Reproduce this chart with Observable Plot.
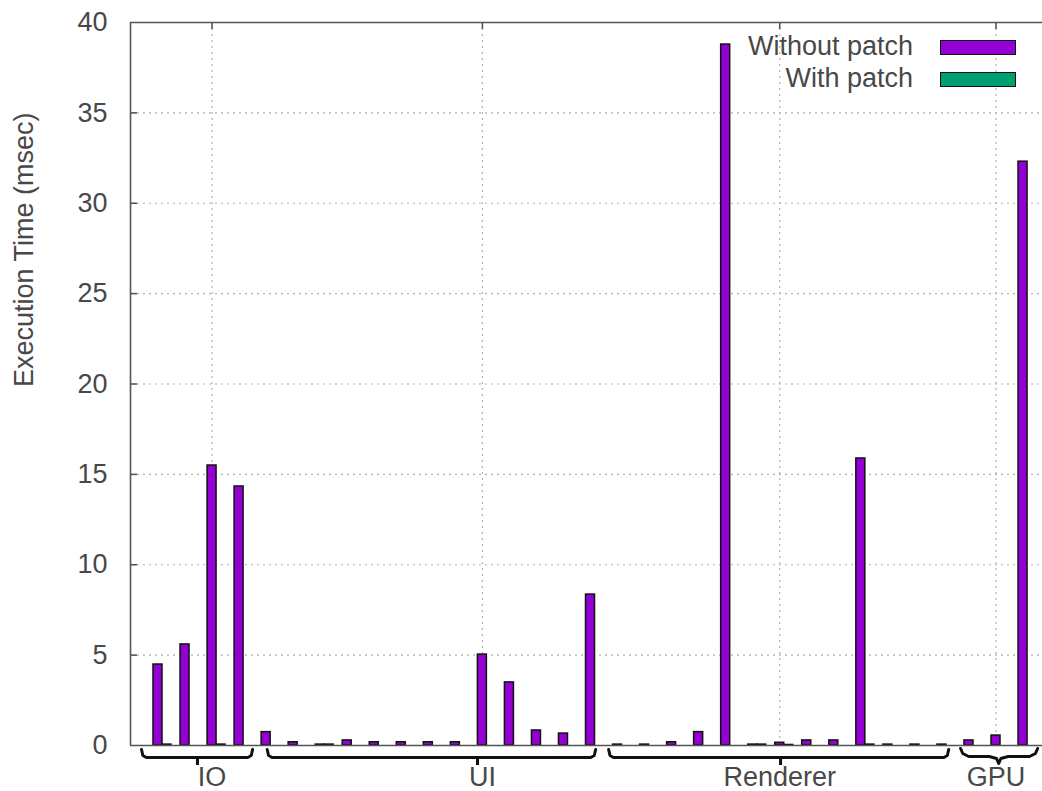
<!DOCTYPE html>
<html>
<head>
<meta charset="utf-8">
<script src="https://cdn.jsdelivr.net/npm/d3@7"></script>
<script src="https://cdn.jsdelivr.net/npm/@observablehq/plot@0.6"></script>
<style>
  html, body { margin: 0; padding: 0; background: #fff; }
  #wrap { position: relative; width: 1042px; height: 791px; overflow: hidden; font-family: "Liberation Sans", Arial, sans-serif; }
  .lg-text { position: absolute; font-size: 27px; color: #484848; text-align: right; line-height: 1; }
  .lg-sw { position: absolute; box-sizing: border-box; border: 1.5px solid #111; }
</style>
</head>
<body>
<div id="wrap"></div>
<script>
// ---- data ----
const groups = ["IO", "UI", "Renderer", "GPU"];
const groupSizes = [4, 13, 13, 3];
const withoutPatch = [
  4.48, 5.59, 15.49, 14.33,
  0.74, 0.18, 0.05, 0.28, 0.18, 0.18, 0.18, 0.18, 5.03, 3.49, 0.83, 0.66, 8.35,
  0.05, 0.05, 0.18, 0.74, 38.78, 0.05, 0.15, 0.28, 0.28, 15.88, 0.05, 0.05, 0.05,
  0.28, 0.55, 32.3
];
const withPatch = [
  0.05, 0, 0.05, 0,
  0, 0, 0.05, 0, 0, 0, 0, 0, 0, 0, 0, 0, 0,
  0, 0, 0, 0, 0, 0.05, 0.03, 0, 0, 0.05, 0, 0, 0,
  0, 0, 0
];
const seriesNames = ["Without patch", "With patch"];
const seriesColors = ["#9400d3", "#009e73"];
const yTicks = [0, 5, 10, 15, 20, 25, 30, 35, 40];
const groupLabelAt = [2, 12, 23, 31];          // cluster index of each group label / grid line
const bracketFrom = [-0.61, 4.04, 16.67, 29.69]; // bracket extents (cluster units)
const bracketTo = [3.50, 16.19, 29.25, 32.54];
const bracketTip = [1.46, 11.82, 23.03, 31.1];

// ---- build tables ----
const bars = [];
withoutPatch.forEach((v, i) => bars.push({i, v, s: 0}));
withPatch.forEach((v, i) => bars.push({i, v, s: 1}));

const pxPerUnit = 723 / 40;
const py = px => -px / pxPerUnit; // pixel offset below the axis -> y units
const bracketLines = [];
groups.forEach((g, k) => {
  const a = bracketFrom[k], b = bracketTo[k], t = bracketTip[k];
  const pts = k === 3
    ? [[a, py(3)], [a + 0.08, py(8)], [a + 0.3, py(11)], [t - 0.35, py(11)], [t - 0.08, py(13)], [t, py(18)],
       [t + 0.08, py(13)], [t + 0.35, py(11)], [b - 0.3, py(11)], [b - 0.08, py(8)], [b, py(3)]]
    : [[a, py(4)], [a + 0.05, py(10)], [a + 0.18, py(12)], [b - 0.18, py(12)], [b - 0.05, py(10)], [b, py(4)]];
  pts.forEach(([x, y]) => bracketLines.push({g, x, y}));
});
const bracketTips = groups.map((g, k) => ({g, x: bracketTip[k]})).filter((d, k) => k !== 3);

const xDomain = [-1.017, 32.72];
const textColor = "#484848";

const chart = Plot.plot({
  width: 1042,
  height: 791,
  marginLeft: 130,
  marginRight: 0,
  marginTop: 22,
  marginBottom: 46,
  style: {fontFamily: "'Liberation Sans', Arial, sans-serif", fontSize: "27px", color: textColor, background: "#fff"},
  x: {type: "linear", domain: xDomain},
  y: {domain: [0, 40]},
  marks: [
    Plot.gridY(yTicks.filter(d => d > 0 && d < 40), {stroke: "#b0b0b0", strokeOpacity: 1, strokeDasharray: "2,4", strokeWidth: 1.2, insetLeft: 7}),
    Plot.gridX(groupLabelAt, {stroke: "#b0b0b0", strokeOpacity: 1, strokeDasharray: "2,4", strokeWidth: 1.2}),
    Plot.rect(bars, {
      x1: d => d.i + (d.s === 0 ? -1/6 : 1/6),
      x2: d => d.i + (d.s === 0 ? 1/6 : 1/2),
      y1: 0, y2: "v",
      fill: d => seriesColors[d.s],
      stroke: "#111", strokeWidth: 1.5
    }),
    Plot.ruleY([0, 40], {stroke: "#555", strokeWidth: 1.6}),
    Plot.ruleX([xDomain[0]], {stroke: "#555", strokeWidth: 1.6}),
    Plot.tickY(yTicks.filter(d => d > 0 && d < 40), {y: d => d, insetRight: 912 - 7, stroke: "#555", strokeWidth: 1.6}),
    Plot.tickX(groupLabelAt, {x: d => d, insetBottom: 723 - 7, stroke: "#555", strokeWidth: 1.6}),
    Plot.axisY({ticks: yTicks, tickSize: 0, tickPadding: 23, label: null, fill: textColor}),
    Plot.axisX({ticks: groupLabelAt, tickSize: 0, tickPadding: 21, label: null, fill: textColor,
      tickFormat: d => groups[groupLabelAt.indexOf(d)]}),
    Plot.line(bracketLines, {x: "x", y: "y", z: "g", stroke: "#111", strokeWidth: 3, strokeLinejoin: "round", strokeLinecap: "round", clip: false}),
    Plot.ruleX(bracketTips, {x: "x", y1: py(12), y2: py(20), stroke: "#111", strokeWidth: 3}),
    Plot.text(["Execution Time (msec)"], {frameAnchor: "left", text: d => d, rotate: -90, dx: -106, dy: 3, fill: textColor})
  ]
});

const wrap = document.getElementById("wrap");
wrap.appendChild(chart);

// legend (inside the plot, top right)
const legend = [
  {name: seriesNames[0], color: seriesColors[0], top: 40},
  {name: seriesNames[1], color: seriesColors[1], top: 72}
];
legend.forEach(l => {
  const t = document.createElement("div");
  t.className = "lg-text";
  t.textContent = l.name;
  t.style.right = (1042 - 913) + "px";
  t.style.top = (l.top - 7) + "px";
  wrap.appendChild(t);
  const s = document.createElement("div");
  s.className = "lg-sw";
  s.style.left = "940px";
  s.style.top = l.top + "px";
  s.style.width = "76px";
  s.style.height = "15px";
  s.style.background = l.color;
  wrap.appendChild(s);
});
</script>
</body>
</html>
